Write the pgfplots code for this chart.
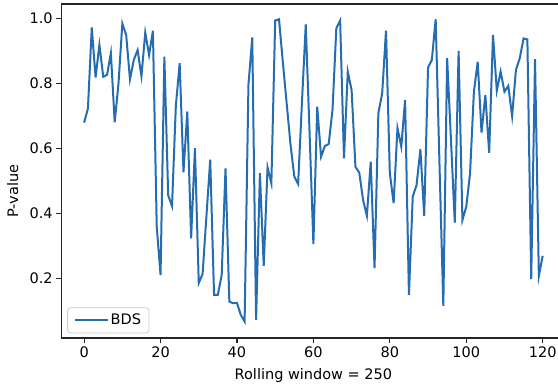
\documentclass[border=0pt]{standalone}
\usepackage{fontspec}
\setmainfont{DejaVu Sans}
\usepackage{pgfplots}
\pgfplotsset{compat=1.18}
\definecolor{bdsblue}{HTML}{266CB0}
\newcommand{\lblfont}{\fontsize{14.5}{17}\selectfont}
\begin{document}
\begin{tikzpicture}
\begin{axis}[
  at={(0pt,0pt)}, anchor=south west,
  scale only axis, width=504.4pt, height=334pt,
  xmin=-6, xmax=126, ymin=0.016, ymax=1.044,
  xtick={0,20,40,60,80,100,120},
  ytick={0.2,0.4,0.6,0.8,1.0},
  yticklabel style={/pgf/number format/.cd, fixed, fixed zerofill, precision=1},
  /pgf/number format/assume math mode=true,
  tick align=outside, xtick pos=bottom, ytick pos=left,
  major tick length=5pt,
  every tick/.style={black!85, line width=1.1pt},
  axis line style={black!85, line width=1.1pt},
  tick label style={font=\lblfont},
  label style={font=\lblfont},
  xlabel={Rolling window = 250},
  ylabel={P-value},
  xlabel style={at={(axis description cs:0.5,-0.1123)}, anchor=center},
  ylabel style={at={(axis description cs:-0.0962,0.44)}, anchor=center},
  legend style={at={(axis description cs:0.012,0.014)}, anchor=south west,
    draw=black!20, line width=0.8pt, rounded corners=3pt, font=\lblfont,
    inner xsep=6pt, inner ysep=4.5pt},
  legend cell align=left,
  legend image code/.code={\draw[#1] (0pt,0pt) -- (33pt,0pt);},
]
\addplot[bdsblue, line width=2pt] coordinates {
(0,0.679) (1,0.723) (2,0.972) (3,0.818) (4,0.918) (5,0.82) (6,0.826) (7,0.893) (8,0.680) (9,0.80)
(10,0.984) (11,0.949) (12,0.812) (13,0.872) (14,0.902) (15,0.822) (16,0.956) (17,0.887) (18,0.962) (19,0.359)
(20,0.21) (21,0.882) (22,0.455) (23,0.422) (24,0.73) (25,0.862) (26,0.526) (27,0.713) (28,0.323) (29,0.60)
(30,0.185) (31,0.213) (32,0.39) (33,0.565) (34,0.149) (35,0.149) (36,0.21) (37,0.538) (38,0.128) (39,0.123)
(40,0.124) (41,0.087) (42,0.067) (43,0.795) (44,0.941) (45,0.072) (46,0.523) (47,0.238) (48,0.541) (49,0.492)
(50,0.993) (51,0.997) (52,0.865) (53,0.739) (54,0.613) (55,0.513) (56,0.49) (57,0.74) (58,0.981) (59,0.647)
(60,0.305) (61,0.728) (62,0.574) (63,0.607) (64,0.613) (65,0.718) (66,0.969) (67,0.993) (68,0.569) (69,0.836)
(70,0.779) (71,0.543) (72,0.525) (73,0.441) (74,0.392) (75,0.559) (76,0.231) (77,0.708) (78,0.769) (79,0.962)
(80,0.523) (81,0.431) (82,0.662) (83,0.605) (84,0.749) (85,0.149) (86,0.451) (87,0.487) (88,0.597) (89,0.392)
(90,0.848) (91,0.872) (92,0.997) (93,0.55) (94,0.115) (95,0.877) (96,0.626) (97,0.371) (98,0.90) (99,0.379)
(100,0.42) (101,0.523) (102,0.774) (103,0.866) (104,0.648) (105,0.764) (106,0.586) (107,0.949) (108,0.777) (109,0.836)
(110,0.774) (111,0.792) (112,0.699) (113,0.841) (114,0.877) (115,0.938) (116,0.935) (117,0.197) (118,0.874) (119,0.207)
(120,0.269)
};
\addlegendentry{BDS}
\end{axis}
\pgfresetboundingbox
\useasboundingbox (-61.2pt,-50pt) rectangle (496.8pt,338pt);
\end{tikzpicture}
\end{document}
